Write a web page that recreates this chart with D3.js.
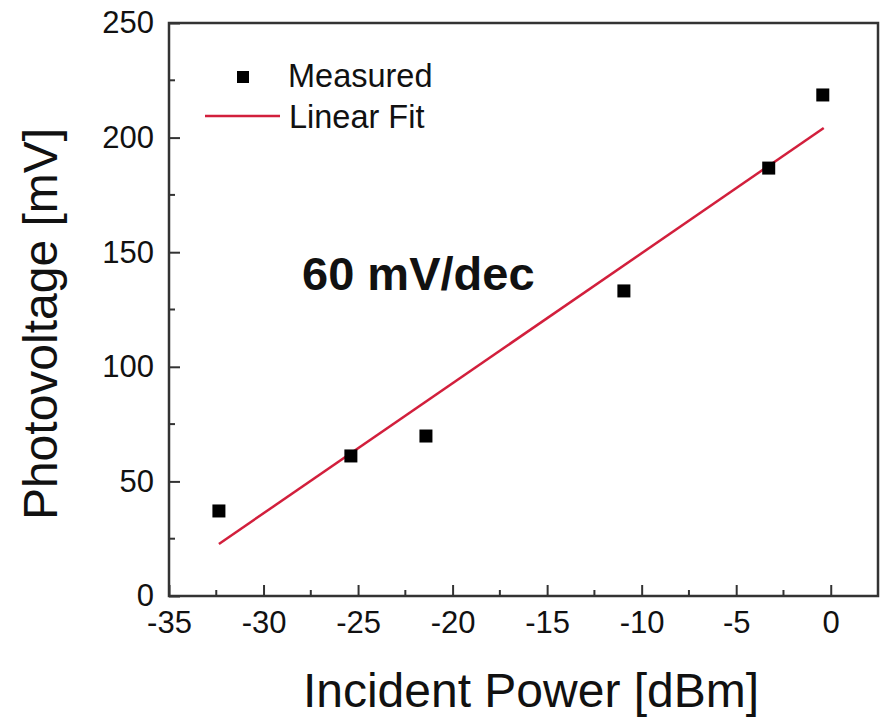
<!DOCTYPE html>
<html>
<head>
<meta charset="utf-8">
<script src="https://cdn.jsdelivr.net/npm/d3@7"></script>
<style>
  body { margin: 0; background: #fff; }
  svg text { font-family: "Liberation Sans", Arial, sans-serif; fill: #111; }
</style>
</head>
<body>
<div id="chart"></div>
<script>
/* Photovoltage vs incident power, with linear fit. */

var powerDbm = [-32.36, -25.38, -21.41, -10.94, -3.28, -0.42];
var voltageMv = [37.1, 61.1, 69.8, 133.1, 186.7, 218.6];
var fitPower = [-32.36, -0.37];
var fitVoltage = [22.7, 204.2];
var xTicks = [-35, -30, -25, -20, -15, -10, -5, 0];
var xMinor = [-32.5, -27.5, -22.5, -17.5, -12.5, -7.5, -2.5];
var yTicks = [0, 50, 100, 150, 200, 250];
var yMinor = [25, 75, 125, 175, 225];

var width = 880, height = 724;
var m = { left: 169, right: 878, top: 23, bottom: 596 };
var frame = "#333";
var red = "#d21f3c";

var svg = d3.select("#chart").append("svg")
  .attr("width", width).attr("height", height);

var x = d3.scaleLinear().domain([-35, 2.5]).range([m.left, m.right]);
var y = d3.scaleLinear().domain([0, 250]).range([m.bottom, m.top]);

/* Bottom axis: major + minor ticks pointing inward */
var xAxis = svg.append("g").attr("transform", "translate(0," + m.bottom + ")")
  .call(d3.axisBottom(x).tickValues(xTicks).tickSizeInner(-11).tickSizeOuter(0).tickPadding(15)
    .tickFormat(function (v) { return v < 0 ? "-" + Math.abs(v) : v; }));
xAxis.select(".domain").remove();
xAxis.selectAll("line").attr("stroke", frame).attr("stroke-width", 2);
xAxis.selectAll("text").attr("font-size", 31).attr("fill", "#222");
xAxis.append("g").selectAll("line").data(xMinor).join("line")
  .attr("x1", function (d) { return x(d); }).attr("x2", function (d) { return x(d); })
  .attr("y1", 0).attr("y2", -6).attr("stroke", frame).attr("stroke-width", 2);

/* Left axis */
var yAxis = svg.append("g").attr("transform", "translate(" + m.left + ",0)")
  .call(d3.axisLeft(y).tickValues(yTicks).tickSizeInner(-11).tickSizeOuter(0).tickPadding(15));
yAxis.select(".domain").remove();
yAxis.selectAll("line").attr("stroke", frame).attr("stroke-width", 2);
yAxis.selectAll("text").attr("font-size", 31).attr("fill", "#222");
yAxis.append("g").selectAll("line").data(yMinor).join("line")
  .attr("y1", function (d) { return y(d); }).attr("y2", function (d) { return y(d); })
  .attr("x1", 0).attr("x2", 6).attr("stroke", frame).attr("stroke-width", 2);

/* Frame */
svg.append("rect")
  .attr("x", m.left).attr("y", m.top)
  .attr("width", m.right - m.left).attr("height", m.bottom - m.top)
  .attr("fill", "none").attr("stroke", frame).attr("stroke-width", 2.5);

/* Fit line */
var line = d3.line().x(function (d) { return x(d[0]); }).y(function (d) { return y(d[1]); });
svg.append("path")
  .datum(d3.zip(fitPower, fitVoltage))
  .attr("d", line).attr("fill", "none").attr("stroke", red).attr("stroke-width", 2.5);

/* Measured points */
var s = 13;
svg.append("g").selectAll("rect").data(d3.zip(powerDbm, voltageMv)).join("rect")
  .attr("x", function (d) { return x(d[0]) - s / 2; })
  .attr("y", function (d) { return y(d[1]) - s / 2; })
  .attr("width", s).attr("height", s).attr("fill", "#000");

/* Annotation */
svg.append("text").attr("x", 302).attr("y", 290)
  .attr("font-size", 47).attr("font-weight", "bold").text("60 mV/dec");

/* Legend */
var lg = svg.append("g");
lg.append("rect").attr("x", 237).attr("y", 71).attr("width", 12).attr("height", 12).attr("fill", "#000");
lg.append("text").attr("x", 288).attr("y", 87).attr("font-size", 32.5).text("Measured");
lg.append("line").attr("x1", 205).attr("x2", 280).attr("y1", 116).attr("y2", 116)
  .attr("stroke", red).attr("stroke-width", 2.5);
lg.append("text").attr("x", 289).attr("y", 128).attr("font-size", 32.5).text("Linear Fit");

/* Axis titles */
svg.append("text").attr("x", 531).attr("y", 707).attr("text-anchor", "middle")
  .attr("font-size", 48).text("Incident Power [dBm]");
svg.append("text").attr("transform", "translate(57,324) rotate(-90)").attr("text-anchor", "middle")
  .attr("font-size", 48).text("Photovoltage [mV]");
</script>
</body>
</html>
